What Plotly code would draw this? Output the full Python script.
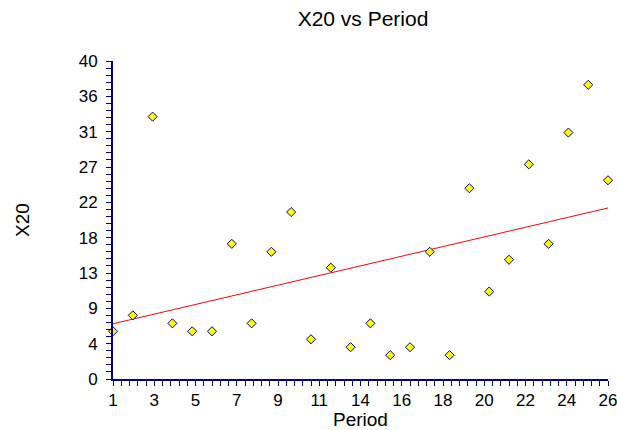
import numpy as np
import plotly.graph_objects as go

period = list(range(1, 27))
x20 = [6, 8, 33, 7, 6, 6, 17, 7, 16, 21, 5, 14, 4, 7, 3, 4, 16, 3, 24, 11, 15, 27, 17, 31, 37, 25]

x_min, x_max = 1, 26
y_min, y_max = 0, 40
x_tick_vals = [x_min + k * (x_max - x_min) / 12 for k in range(13)]
x_tick_text = ["1", "3", "5", "7", "9", "11", "14", "16", "18", "20", "22", "24", "26"]
y_tick_vals = [y_min + k * (y_max - y_min) / 9 for k in range(10)]
y_tick_text = ["0", "4", "9", "13", "18", "22", "27", "31", "36", "40"]

slope, intercept = np.polyfit(period, x20, 1)
fit_x = [x_min, x_max]
fit_y = [intercept + slope * v for v in fit_x]

navy = "#000080"
font_family = "Liberation Sans, Arial, sans-serif"

W, H = 617, 430
ML, MR, MT, MB = 113, 9, 61, 51
plot_w = W - ML - MR
plot_h = H - MT - MB

fig = go.Figure()
fig.add_trace(go.Scatter(x=fit_x, y=fit_y, mode="lines",
                         line=dict(color="#ff0000", width=1), hoverinfo="skip",
                         showlegend=False))
fig.add_trace(go.Scatter(x=period, y=x20, mode="markers",
                         marker=dict(symbol="diamond", size=7, color="#ffff00",
                                     line=dict(color=navy, width=1)),
                         cliponaxis=False, showlegend=False))

axis_common = dict(showgrid=False, zeroline=False, showline=True, linecolor=navy,
                   linewidth=2, ticks="outside", ticklen=5, tickwidth=1,
                   tickcolor=navy, automargin=False, ticklabeloverflow="allow",
                   tickfont=dict(size=17, color="#000000"))

fig.update_layout(
    width=W, height=H,
    margin=dict(l=ML, r=MR, t=MT, b=MB, autoexpand=False),
    paper_bgcolor="white", plot_bgcolor="white",
    font=dict(family=font_family, color="#000000"),
    title=dict(text="X20 vs Period", x=363 / W, xref="container", xanchor="center",
               y=1 - 19 / H, yref="container", yanchor="middle",
               font=dict(size=21, color="#000000")),
    xaxis=dict(range=[x_min, x_max], tickmode="array", tickvals=x_tick_vals,
               ticktext=x_tick_text,
               minor=dict(tickmode="linear", tick0=x_min, dtick=(x_max - x_min) / 60,
                          ticks="outside", ticklen=5, tickwidth=1, tickcolor=navy),
               **axis_common),
    yaxis=dict(range=[y_min, y_max], tickmode="array", tickvals=y_tick_vals,
               ticktext=y_tick_text, ticklabelstandoff=5,
               minor=dict(tickmode="linear", tick0=y_min, dtick=(y_max - y_min) / 45,
                          ticks="outside", ticklen=5, tickwidth=1, tickcolor=navy),
               **axis_common),
    annotations=[
        dict(text="Period", xref="paper", yref="paper", x=0.5, y=-40 / plot_h,
             xanchor="center", yanchor="middle", showarrow=False,
             font=dict(size=19, color="#000000")),
        dict(text="X20", xref="paper", yref="paper", x=-91 / plot_w, y=0.5,
             xanchor="center", yanchor="middle", showarrow=False, textangle=-90,
             font=dict(size=19, color="#000000")),
    ],
)

fig.write_html(
    "out.html",
    config={"displayModeBar": False},
    post_script="document.body.style.margin='0';document.body.style.overflow='hidden';",
)
